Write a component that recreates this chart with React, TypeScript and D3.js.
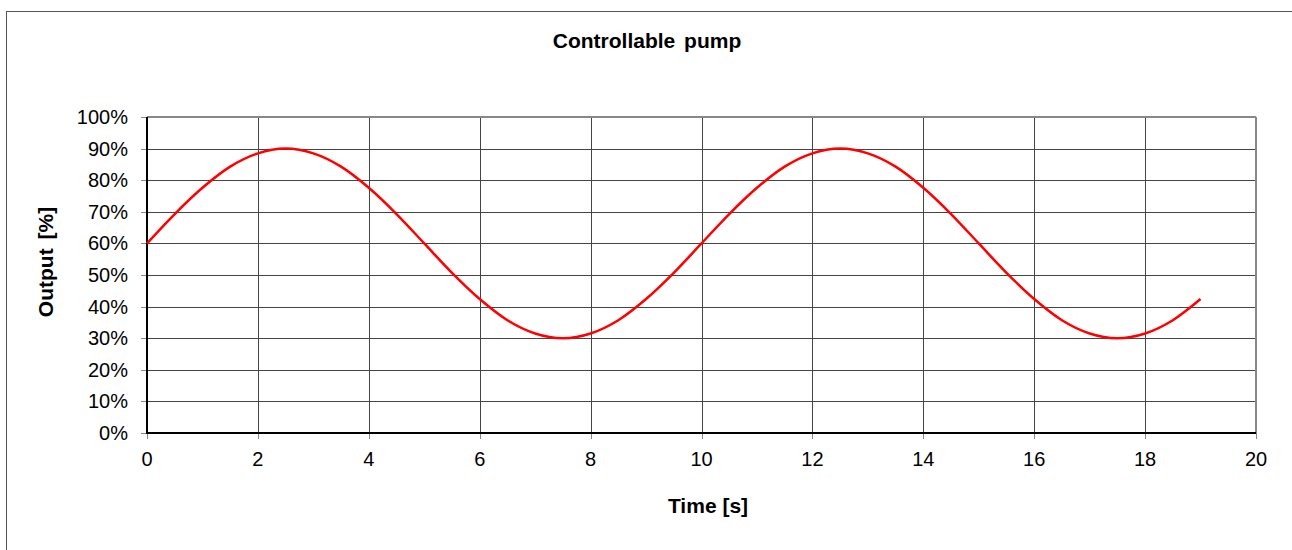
import React from 'react';
import * as d3 from 'd3';

// time samples [s] and pump output [%]
const time = [0, 0.5, 1, 1.5, 2, 2.5, 3, 3.5, 4, 4.5, 5, 5.5, 6, 6.5, 7, 7.5, 8, 8.5, 9, 9.5,
  10, 10.5, 11, 11.5, 12, 12.5, 13, 13.5, 14, 14.5, 15, 15.5, 16, 16.5, 17, 17.5, 18, 18.5, 19];
const output = [60, 69.3, 77.6, 84.3, 88.5, 90, 88.5, 84.3, 77.6, 69.3, 60, 50.7, 42.4, 35.7, 31.5, 30, 31.5, 35.7, 42.4, 50.7,
  60, 69.3, 77.6, 84.3, 88.5, 90, 88.5, 84.3, 77.6, 69.3, 60, 50.7, 42.4, 35.7, 31.5, 30, 31.5, 35.7, 42.4];
const xTicks = [0, 2, 4, 6, 8, 10, 12, 14, 16, 18, 20];
const yTicks = [0, 10, 20, 30, 40, 50, 60, 70, 80, 90, 100];

const title = 'Controllable pump';
const xTitle = 'Time [s]';
const yTitle = 'Output [%]';

const W = 1292;
const H = 550;
const font = 'Arial, "Liberation Sans", sans-serif';

export default function App() {
  const x = d3.scaleLinear().domain([0, 20]).range([147, 1256]);
  const y = d3.scaleLinear().domain([0, 100]).range([433, 117]);

  const line = d3.line<number>()
    .x((d, i) => x(time[i]))
    .y(d => y(d))
    .curve(d3.curveMonotoneX);

  return (
    <svg width={W} height={H} style={{ position: 'absolute', left: 0, top: 0, background: '#fff' }}>
      {/* outer frame */}
      <rect x={6.5} y={11.5} width={W + 10} height={H + 10} fill="none" stroke="#555" strokeWidth={1} />

      <text x={647} y={48} textAnchor="middle" fontFamily={font} fontSize={21} fontWeight="bold" wordSpacing={3} fill="#000">{title}</text>

      {/* grid */}
      {yTicks.slice(1, -1).map(t => (
        <line key={'gy' + t} x1={x(0)} x2={x(20)} y1={Math.round(y(t)) + 0.5} y2={Math.round(y(t)) + 0.5} stroke="#444" strokeWidth={1} />
      ))}
      {xTicks.slice(1, -1).map(t => (
        <line key={'gx' + t} x1={Math.round(x(t)) + 0.5} x2={Math.round(x(t)) + 0.5} y1={y(100)} y2={y(0)} stroke="#444" strokeWidth={1} />
      ))}
      {/* top & right border */}
      <line x1={x(0)} x2={x(20)} y1={y(100)} y2={y(100)} stroke="#888" strokeWidth={2} />
      <line x1={x(20)} x2={x(20)} y1={y(100)} y2={y(0)} stroke="#888" strokeWidth={2} />

      {/* y ticks */}
      {yTicks.map(t => (
        <g key={'yt' + t}>
          <line x1={x(0) - 6} x2={x(0)} y1={Math.round(y(t)) + 0.5} y2={Math.round(y(t)) + 0.5} stroke="#888" strokeWidth={1} />
          <text x={128} y={y(t)} dy="0.35em" textAnchor="end" fontFamily={font} fontSize={20} fill="#000">{t}%</text>
        </g>
      ))}
      {/* x ticks */}
      {xTicks.map(t => (
        <g key={'xt' + t}>
          <line x1={Math.round(x(t)) + 0.5} x2={Math.round(x(t)) + 0.5} y1={y(0)} y2={y(0) + 6} stroke="#888" strokeWidth={1} />
          <text x={x(t)} y={466} textAnchor="middle" fontFamily={font} fontSize={20} fill="#000">{t}</text>
        </g>
      ))}

      {/* axes */}
      <line x1={x(0)} x2={x(0)} y1={y(100)} y2={y(0) + 1} stroke="#000" strokeWidth={2} />
      <line x1={x(0) - 1} x2={x(20)} y1={y(0)} y2={y(0)} stroke="#000" strokeWidth={2} />

      <path d={line(output) ?? ''} fill="none" stroke="#ff0000" strokeWidth={2.5} strokeLinejoin="round" />

      <text x={708} y={513} textAnchor="middle" fontFamily={font} fontSize={21} fontWeight="bold" fill="#000">{xTitle}</text>
      <text transform="translate(53,262) rotate(-90)" textAnchor="middle" fontFamily={font} fontSize={21} fontWeight="bold" wordSpacing={3} fill="#000">{yTitle}</text>
    </svg>
  );
}
